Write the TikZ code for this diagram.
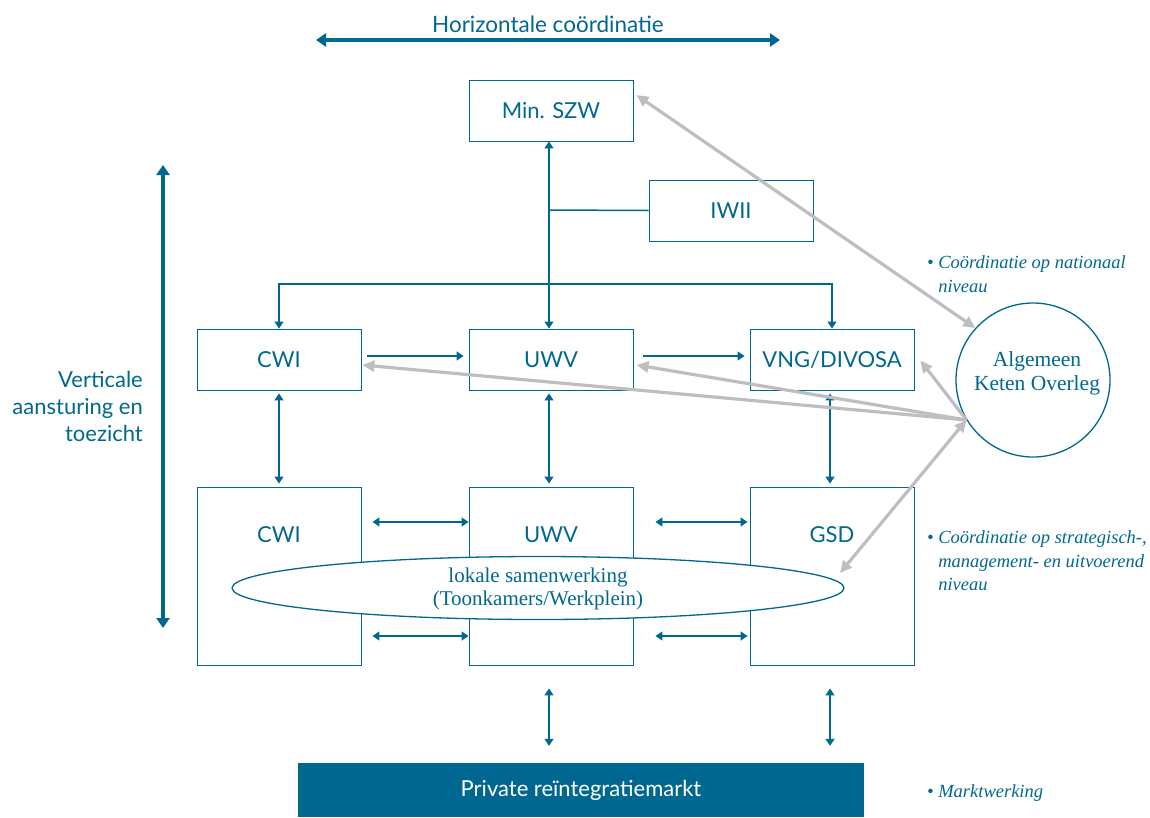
\documentclass[tikz,border=0pt]{standalone}
\usepackage{fontspec}
\newfontfamily\sansf{Lato}
\newfontfamily\seriff{Liberation Serif}
\usetikzlibrary{arrows.meta,shapes.geometric}
\definecolor{mblue}{RGB}{0,104,144}
\definecolor{mgray}{RGB}{190,190,192}
\tikzset{
  box/.style={draw=mblue,line width=0.9pt,minimum width=164pt,minimum height=61pt,inner sep=0pt,text=mblue,font=\sansf\fontsize{22}{26}\selectfont},
  bigbox/.style={draw=mblue,line width=0.9pt,minimum width=164pt,minimum height=178pt,inner sep=0pt},
  lbl/.style={text=mblue,font=\sansf\fontsize{22}{26}\selectfont,inner sep=0pt},
  con/.style={draw=mblue,line width=1.5pt,arrows={-},>={Triangle[width=9pt,length=7pt]}},
  thick arrow/.style={draw=mblue,line width=3.5pt,>={Triangle[width=13pt,length=10pt]}},
  gr/.style={draw=mgray,line width=3.2pt,>={Triangle[width=11pt,length=12pt]}},
  note/.style={text=mblue,font=\seriff\itshape\fontsize{18.5}{23.5}\selectfont,align=left,anchor=west,inner sep=0pt},
  serift/.style={text=mblue,font=\seriff\fontsize{21.5}{24}\selectfont,align=center,inner sep=0pt}
}
\begin{document}
\begin{tikzpicture}[x=1pt,y=-1pt]
\useasboundingbox (0,0) rectangle (1150,817);
% top horizontal arrow
\coordinate (hcl) at (316,40);
\coordinate (hcr) at (780,40);
\draw[thick arrow,<->] (hcl) -- (hcr);
\node[lbl,font=\sansf\fontsize{22.5}{26}\selectfont] (hct) at (548,24) {Horizontale coördinatie};
% vertical arrow
\coordinate (vct) at (163,165);
\coordinate (vcb) at (163,628);
\draw[thick arrow,<->] (vct) -- (vcb);
\node[lbl,align=right,anchor=east,font=\sansf\fontsize{22}{27}\selectfont] (vctx) at (143,406) {Verticale\\aansturing en\\toezicht};
% boxes
\node[box] (szw) at (551,110.5) {Min. SZW};
\node[box] (iwii) at (731,210.5) {IWII};
\node[box] (cwi) at (279,359.5) {CWI};
\node[box] (uwv) at (551,359.5) {UWV};
\node[box] (vng) at (832,359.5) {VNG/DIVOSA};
\node[bigbox] (cwib) at (279,576) {};
\node[bigbox] (uwvb) at (551,576) {};
\node[bigbox] (gsdb) at (832,576) {};
\node[lbl] (cwibt) at (279,535) {CWI};
\node[lbl] (uwvbt) at (551,535) {UWV};
\node[lbl] (gsdbt) at (832,535) {GSD};
% ellipse
\node[ellipse,draw=mblue,line width=1.3pt,fill=white,minimum width=612pt,minimum height=63pt,inner sep=0pt] (lok) at (538,588) {};
\node[serift,font=\seriff\fontsize{21}{23}\selectfont] (lokt) at (538,589) {lokale samenwerking\\(Toonkamers/Werkplein)};
% circle
\node[circle,draw=mblue,line width=1.3pt,minimum size=154pt,inner sep=0pt] (ako) at (1033,380) {};
\node[serift] (akot) at (1037,373) {Algemeen\\Keten Overleg};
% private market
\node[fill=mblue,minimum width=566pt,minimum height=54pt,inner sep=0pt,text=white,font=\sansf\fontsize{22}{26}\selectfont] (priv) at (581,790) {Private reïntegratiemarkt};
% notes
\node[note] (n1) at (927,274) {\textbullet\ Coördinatie op nationaal\\\phantom{\textbullet\ }niveau};
\node[note] (n2) at (927,561) {\textbullet\ Coördinatie op strategisch-,\\\phantom{\textbullet\ }management- en uitvoerend\\\phantom{\textbullet\ }niveau};
\node[note] (n3) at (927,793) {\textbullet\ Marktwerking};
% blue connectors
\coordinate (br) at (549,210);
\coordinate (hl) at (279,284);
\coordinate (hr) at (832,284);
\coordinate (hm) at (549,284);
\draw[con,<->] ([xshift=-2pt]szw.south) -- ([xshift=-2pt]uwv.north);
\draw[con] (br) -- (iwii.west);
\draw[con,->] (hm) -- (hl) -- (cwi.north);
\draw[con,->] (hm) -- (hr) -- (vng.north);
\draw[con,->] ([xshift=6pt,yshift=3.5pt]cwi.east) -- ([xshift=-5pt,yshift=3.5pt]uwv.west);
\draw[con,->] ([xshift=10pt,yshift=3.5pt]uwv.east) -- ([xshift=-5pt,yshift=3.5pt]vng.west);
\draw[con,<->,shorten <=3pt,shorten >=3pt] (cwi.south) -- (cwib.north);
\draw[con,<->,shorten <=3pt,shorten >=3pt] ([xshift=-2pt]uwv.south) -- ([xshift=-2pt]uwvb.north);
\draw[con,<->,shorten <=3pt,shorten >=3pt] ([xshift=-2pt]vng.south) -- ([xshift=-2pt]gsdb.north);
\draw[con,<->] ([xshift=11pt,yshift=54pt]cwib.east) -- ([yshift=54pt]uwvb.west);
\draw[con,<->] ([xshift=11pt,yshift=-60pt]cwib.east) -- ([yshift=-60pt]uwvb.west);
\draw[con,<->] ([xshift=22pt,yshift=54pt]uwvb.east) -- ([xshift=-2pt,yshift=54pt]gsdb.west);
\draw[con,<->] ([xshift=22pt,yshift=-60pt]uwvb.east) -- ([xshift=-2pt,yshift=-60pt]gsdb.west);
\draw[con,<->,shorten <=23pt,shorten >=17pt] ([xshift=-2pt]uwvb.south) -- ([xshift=-2pt]uwvb.south |- priv.north);
\draw[con,<->,shorten <=23pt,shorten >=17pt] ([xshift=-2pt]gsdb.south) -- ([xshift=-2pt]gsdb.south |- priv.north);
% gray connectors
\coordinate (gsdpt) at (840,573);
\draw[gr,<->] ([xshift=3pt,yshift=15.5pt]szw.east) -- (ako.138);
\draw[gr,->] (ako.211) -- ([xshift=1pt,yshift=-5.5pt]cwi.east);
\draw[gr,->] (ako.211) -- ([xshift=3pt,yshift=-5.5pt]uwv.east);
\draw[gr,->] (ako.211) -- ([xshift=6pt,yshift=-1pt]vng.east);
\draw[gr,<->] (ako.211) -- (gsdpt);
\end{tikzpicture}
\end{document}
